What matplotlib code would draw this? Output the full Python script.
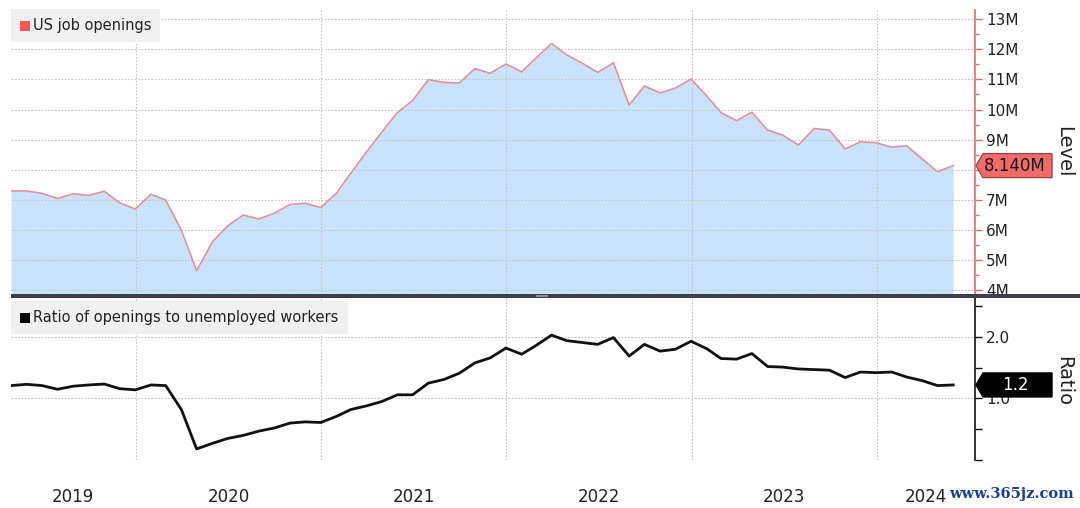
import matplotlib
matplotlib.use("Agg")
import matplotlib.pyplot as plt
import matplotlib.dates as mdates
from matplotlib.patches import Rectangle, Polygon
from matplotlib.transforms import IdentityTransform
import pandas as pd
import numpy as np

plt.rcParams['font.family'] = ['DejaVu Sans']

# ---------------- data ----------------
start_month = "2019-04-30"
openings_m = [
    # 2019 Apr-Dec
    7.30, 7.30, 7.22, 7.05, 7.21, 7.15, 7.29, 6.91, 6.70,
    # 2020
    7.19, 7.00, 6.00, 4.65, 5.61, 6.14, 6.50, 6.37, 6.56, 6.85, 6.89, 6.75,
    # 2021
    7.23, 7.89, 8.59, 9.25, 9.90, 10.30, 10.99, 10.90, 10.88, 11.36, 11.20, 11.51,
    # 2022
    11.25, 11.70, 12.19, 11.81, 11.53, 11.23, 11.55, 10.15, 10.78, 10.55, 10.71, 11.01,
    # 2023
    10.45, 9.90, 9.63, 9.91, 9.32, 9.15, 8.82, 9.37, 9.32, 8.69, 8.93, 8.90,
    # 2024 Jan-May
    8.75, 8.80, 8.36, 7.94, 8.14,
]
ratio = [
    1.21, 1.23, 1.21, 1.15, 1.20, 1.22, 1.235, 1.16, 1.14,
    1.22, 1.21, 0.82, 0.18, 0.27, 0.35, 0.40, 0.47, 0.52, 0.60, 0.62, 0.61,
    0.71, 0.82, 0.88, 0.95, 1.06, 1.06, 1.25, 1.31, 1.41, 1.58, 1.66, 1.82,
    1.72, 1.86, 2.03, 1.94, 1.91, 1.88, 1.99, 1.69, 1.88, 1.77, 1.80, 1.93,
    1.81, 1.65, 1.64, 1.73, 1.52, 1.51, 1.48, 1.47, 1.46, 1.34, 1.43, 1.42,
    1.43, 1.35, 1.29, 1.21, 1.22,
]
years = [2019, 2020, 2021, 2022, 2023, 2024]
level_ticks = [4, 5, 6, 7, 8, 9, 10, 11, 12, 13]
level_labels = ["4M", "5M", "6M", "7M", "", "9M", "10M", "11M", "12M", "13M"]
ratio_ticks = [0.0, 0.5, 1.0, 1.5, 2.0, 2.5]
ratio_labels = ["", "", "1.0", "", "2.0", ""]
last_level_label = "8.140M"
last_ratio_label = "1.2"
series1_name = "US job openings"
series2_name = "Ratio of openings to unemployed workers"

try:
    dates = pd.date_range(start_month, periods=len(openings_m), freq="ME")
except Exception:
    dates = pd.date_range(start_month, periods=len(openings_m), freq="M")
x = mdates.date2num(dates.to_pydatetime())

W, H = 1080, 508
DPI = 100
fig = plt.figure(figsize=(W / DPI, H / DPI), dpi=DPI)
fig.patch.set_facecolor("white")

def px_axes(l, t, r, b):
    return fig.add_axes([l / W, 1 - b / H, (r - l) / W, (b - t) / H])

ax1 = px_axes(11, 10, 975, 295)
ax2 = px_axes(11, 297, 975, 460)

xmin = mdates.date2num(pd.Timestamp("2019-04-30"))
xmax = mdates.date2num(pd.Timestamp("2024-07-13"))
year_starts = [mdates.date2num(pd.Timestamp(f"{y}-01-01")) for y in years]

grid_color = "#c4c4c4"
LINE_RED = "#e8909a"
FILL_BLUE = "#c9e2fb"
AX_RED = "#f06868"

for ax in (ax1, ax2):
    ax.set_xlim(xmin, xmax)
    for s in ("left", "top", "bottom"):
        ax.spines[s].set_visible(False)
    ax.yaxis.tick_right()
    ax.set_xticks(year_starts[1:])
    ax.grid(True, axis="both", color=grid_color, linestyle=(0, (1.5, 1.5)), linewidth=0.8)
    ax.tick_params(axis="x", length=0, labelbottom=False)

# ---- top panel ----
ax1.fill_between(x, openings_m, 0, color=FILL_BLUE, zorder=1, linewidth=0)
ax1.plot(x, openings_m, color=LINE_RED, linewidth=1.2, zorder=3)
ax1.set_ylim(3.85, 13.3)
ax1.set_yticks(level_ticks)
ax1.set_yticklabels(level_labels)
ax1.set_yticks(np.arange(4.5, 13.5, 1.0), minor=True)
ax1.spines["right"].set_color(AX_RED)
ax1.spines["right"].set_linewidth(1.2)
ax1.tick_params(axis="y", which="major", direction="out", length=5, width=1,
                color=AX_RED, labelsize=11, labelcolor="#222222", pad=3)
ax1.tick_params(axis="y", which="minor", direction="out", length=3, width=1, color=AX_RED)
ax1.grid(False, which="minor")
ax1.set_axisbelow("line")

# ---- bottom panel ----
ax2.plot(x, ratio, color="#111111", linewidth=2.0, zorder=3)
ax2.set_ylim(0, 2.65)
ax2.set_yticks(ratio_ticks)
ax2.set_yticklabels(ratio_labels)
ax2.spines["right"].set_color("#111111")
ax2.spines["right"].set_linewidth(1.2)
ax2.tick_params(axis="y", direction="out", length=5, width=1, color="#111111",
                labelsize=11, labelcolor="#222222", pad=3)
ax2.yaxis.grid(False)
for v in (0.0, 1.0, 2.0):
    ax2.axhline(v, color=grid_color, linestyle=(0, (1.5, 1.5)), linewidth=0.8, zorder=1.5)

# year labels centred on visible part of each year
edges = [xmin] + year_starts[1:] + [xmax]
centers = [(edges[i] + edges[i + 1]) / 2 for i in range(len(years))]
ax2.set_xticks(centers, minor=True)
ax2.set_xticklabels([str(y) for y in years], minor=True)
ax2.tick_params(axis="x", which="minor", length=0, labelbottom=True, labelsize=12,
                labelcolor="#222222", pad=20)

# ---- separator bar ----
fig.patches.append(Rectangle((11 / W, 1 - 298 / H), (W - 11) / W, 4 / H,
                             transform=fig.transFigure, facecolor="#3c404a",
                             edgecolor="none", zorder=5))
fig.patches.append(Rectangle((536 / W, 1 - 297 / H), 12 / W, 2 / H,
                             transform=fig.transFigure, facecolor="#8a8e98",
                             edgecolor="none", zorder=6))

# ---- legend boxes ----
def legend_box(l, t, r, b, color, text):
    fig.patches.append(Rectangle((l / W, 1 - b / H), (r - l) / W, (b - t) / H,
                                 transform=fig.transFigure, facecolor="#f0f0f0",
                                 edgecolor="none", zorder=5))
    cy = (t + b) / 2
    fig.patches.append(Rectangle((20 / W, 1 - (cy + 5) / H), 10 / W, 10 / H,
                                 transform=fig.transFigure, facecolor=color,
                                 edgecolor="none", zorder=6))
    fig.text(33 / W, 1 - cy / H, text, fontsize=10.5, color="#222222",
             va="center", ha="left", zorder=6)

legend_box(11, 9, 160, 42, "#f25b5b", series1_name)
legend_box(11, 301, 348, 334, "#000000", series2_name)

# ---- value tags ----
def value_tag(ax, val, face, edge, tcolor, text):
    ypx = ax.transData.transform((xmin, val))[1]
    ytop = H - ypx
    tip = 976
    pts_top = [(tip, ytop), (tip + 7, ytop - 12), (1052, ytop - 12),
               (1052, ytop + 12), (tip + 7, ytop + 12)]
    pts = [(px, H - py) for px, py in pts_top]
    fig.patches.append(Polygon(pts, closed=True, transform=IdentityTransform(),
                               facecolor=face, edgecolor=edge, linewidth=1, zorder=7))
    fig.text(1015 / W, ypx / H, text, fontsize=12, color=tcolor,
             ha="center", va="center", zorder=8)

value_tag(ax1, openings_m[-1], "#f26a6a", "#9a4a4a", "#1a1a1a", last_level_label)
value_tag(ax2, ratio[-1], "#000000", "#000000", "#ffffff", last_ratio_label)

# ---- axis titles ----
fig.text(1064 / W, 1 - 152 / H, "Level", rotation=270, fontsize=14,
         color="#222222", ha="center", va="center")
fig.text(1064 / W, 1 - 381 / H, "Ratio", rotation=270, fontsize=14,
         color="#222222", ha="center", va="center")

# ---- watermark ----
fig.text(1074 / W, 1 - 494 / H, "www.365jz.com", fontsize=10.5, color="#1d3f8f",
         family="DejaVu Serif", ha="right", va="center", fontweight="bold")

fig.savefig("out.png", dpi=DPI, facecolor="white")
